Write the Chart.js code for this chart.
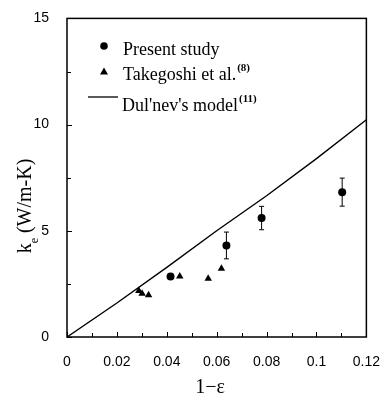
<!DOCTYPE html>
<html>
<head>
<meta charset="utf-8">
<script src="https://cdn.jsdelivr.net/npm/chart.js@4.4.1/dist/chart.umd.min.js"></script>
<style>
  html, body { margin: 0; padding: 0; background: #fff; }
  #wrap { width: 389px; height: 400px; }
</style>
</head>
<body>
<div id="wrap"><canvas id="chart" width="389" height="400"></canvas></div>
<script>
// present study (with error bars)
var presentX = [0.0415, 0.0639, 0.078, 0.1103];
var presentY = [2.85, 4.31, 5.6, 6.82];
var presentErr = [0, 0.63, 0.55, 0.66];

// Takegoshi et al.
var takeX = [0.0288, 0.0301, 0.0327, 0.0452, 0.0566, 0.0619];
var takeY = [2.17, 2.04, 1.97, 2.86, 2.75, 3.22];

// Dul'nev's model
var modelX = [0, 0.02, 0.04, 0.06, 0.08, 0.10, 0.12];
var modelY = [0, 1.6, 3.28, 5.0, 6.65, 8.4, 10.23];

var xTicks = [0, 0.02, 0.04, 0.06, 0.08, 0.1, 0.12];
var xTickLabels = ["0", "0.02", "0.04", "0.06", "0.08", "0.1", "0.12"];
var yTicks = [0, 5, 10, 15];
var yTickLabels = ["0", "5", "10", "15"];

var toPts = function(xs, ys) {
    var out = [];
    for (var i = 0; i < xs.length; i++) out.push({x: xs[i], y: ys[i]});
    return out;
};

var tickLabel = function(val, vals, labels) {
    for (var i = 0; i < vals.length; i++) {
        if (Math.abs(vals[i] - val) < 1e-6) return labels[i];
    }
    return "";
};

var serif = '"Liberation Serif", "Times New Roman", serif';

// frame, inward ticks, error bars, legend and axis titles
var decorations = {
    id: 'decorations',
    beforeDatasetsDraw: function(chart) {
        var ctx = chart.ctx, xs = chart.scales.x, ys = chart.scales.y;
        ctx.save();
        ctx.strokeStyle = '#000';
        ctx.lineWidth = 1;
        for (var i = 0; i < presentX.length; i++) {
            if (!presentErr[i]) continue;
            var px = xs.getPixelForValue(presentX[i]);
            var top = ys.getPixelForValue(presentY[i] + presentErr[i]);
            var bot = ys.getPixelForValue(presentY[i] - presentErr[i]);
            ctx.beginPath();
            ctx.moveTo(px, top); ctx.lineTo(px, bot);
            ctx.moveTo(px - 2.5, top); ctx.lineTo(px + 2.5, top);
            ctx.moveTo(px - 2.5, bot); ctx.lineTo(px + 2.5, bot);
            ctx.stroke();
        }
        ctx.restore();
    },
    afterDraw: function(chart) {
        var ctx = chart.ctx, a = chart.chartArea;
        var xs = chart.scales.x, ys = chart.scales.y;
        ctx.save();
        ctx.strokeStyle = '#000';
        ctx.lineWidth = 1.5;
        ctx.strokeRect(a.left, a.top, a.right - a.left, a.bottom - a.top);

        // inward ticks
        ctx.lineWidth = 1;
        ctx.beginPath();
        for (var v = 0; v <= 0.1201; v += 0.01) {
            var px = Math.round(xs.getPixelForValue(v)) + 0.5;
            var len = (Math.round(v * 100) % 2 === 0) ? 5 : 4;
            ctx.moveTo(px, a.bottom); ctx.lineTo(px, a.bottom - len);
        }
        for (var w = 0; w <= 15; w += 2.5) {
            var py = Math.round(ys.getPixelForValue(w)) + 0.5;
            var l2 = (w % 5 === 0) ? 5 : 4;
            ctx.moveTo(a.left, py); ctx.lineTo(a.left + l2, py);
        }
        ctx.stroke();

        // legend
        ctx.fillStyle = '#000';
        ctx.beginPath();
        ctx.arc(104, 46, 3.8, 0, Math.PI * 2);
        ctx.fill();
        ctx.beginPath();
        ctx.moveTo(104, 67.5); ctx.lineTo(108, 74.5); ctx.lineTo(100, 74.5);
        ctx.closePath();
        ctx.fill();
        ctx.lineWidth = 1.3;
        ctx.beginPath();
        ctx.moveTo(88, 97); ctx.lineTo(118, 97);
        ctx.stroke();

        ctx.textAlign = 'left';
        ctx.textBaseline = 'alphabetic';
        ctx.font = '18px ' + serif;
        ctx.fillText('Present study', 123, 55);
        ctx.fillText('Takegoshi et al.', 123, 80);
        var w1 = ctx.measureText('Takegoshi et al.').width;
        ctx.fillText("Dul'nev's model", 122, 111);
        var w2 = ctx.measureText("Dul'nev's model").width;
        ctx.font = 'bold 11px ' + serif;
        ctx.fillText('(8)', 123 + w1 + 1, 71);
        ctx.fillText('(11)', 122 + w2 + 1, 102);

        // x title
        ctx.font = '20px ' + serif;
        ctx.textAlign = 'center';
        ctx.fillText('1\u2212\u03b5', 210, 393);

        // y title, rotated, with subscript e
        ctx.translate(31, 206);
        ctx.rotate(-Math.PI / 2);
        ctx.font = '20px ' + serif;
        var wk = ctx.measureText('k').width;
        var wr = ctx.measureText(' (W/m-K)').width;
        ctx.font = '12px ' + serif;
        var we = ctx.measureText('e').width;
        var start = -(wk + we + wr) / 2;
        ctx.textAlign = 'left';
        ctx.font = '20px ' + serif;
        ctx.fillText('k', start, 0);
        ctx.font = '12px ' + serif;
        ctx.fillText('e', start + wk, 7);
        ctx.font = '20px ' + serif;
        ctx.fillText(' (W/m-K)', start + wk + we, 0);
        ctx.restore();
    }
};

var ctx = document.getElementById('chart').getContext('2d');
var chart = new Chart(ctx, {
    type: 'scatter',
    data: {
        datasets: [{
            label: "Dul'nev's model",
            data: toPts(modelX, modelY),
            showLine: true,
            borderColor: '#000',
            borderWidth: 1.4,
            pointRadius: 0,
            tension: 0
        }, {
            label: 'Present study',
            data: toPts(presentX, presentY),
            pointStyle: 'circle',
            pointRadius: 4,
            backgroundColor: '#000',
            borderColor: '#000',
            borderWidth: 0
        }, {
            label: 'Takegoshi et al.',
            data: toPts(takeX, takeY),
            pointStyle: 'triangle',
            pointRadius: 4.3,
            backgroundColor: '#000',
            borderColor: '#000',
            borderWidth: 0
        }]
    },
    options: {
        responsive: false,
        animation: false,
        events: [],
        layout: { padding: { left: 0, right: 17, top: 12, bottom: 0 } },
        plugins: { legend: { display: false }, tooltip: { enabled: false } },
        scales: {
            x: {
                type: 'linear',
                min: 0,
                max: 0.12,
                afterBuildTicks: function(s) {
                    s.ticks = xTicks.map(function(v) { return {value: v}; });
                },
                afterFit: function(s) { s.height = 63; },
                grid: { display: false },
                border: { display: false },
                ticks: {
                    color: '#000',
                    padding: 9,
                    font: { family: '"Liberation Sans", Arial, sans-serif', size: 14 },
                    maxRotation: 0,
                    callback: function(v) { return tickLabel(v, xTicks, xTickLabels); }
                }
            },
            y: {
                type: 'linear',
                min: 0,
                max: 15,
                afterBuildTicks: function(s) {
                    s.ticks = yTicks.map(function(v) { return {value: v}; });
                },
                afterFit: function(s) { s.width = 67; },
                grid: { display: false },
                border: { display: false },
                ticks: {
                    color: '#000',
                    padding: 10,
                    font: { family: '"Liberation Sans", Arial, sans-serif', size: 14 },
                    callback: function(v) { return tickLabel(v, yTicks, yTickLabels); }
                }
            }
        }
    },
    plugins: [decorations]
});
</script>
</body>
</html>
